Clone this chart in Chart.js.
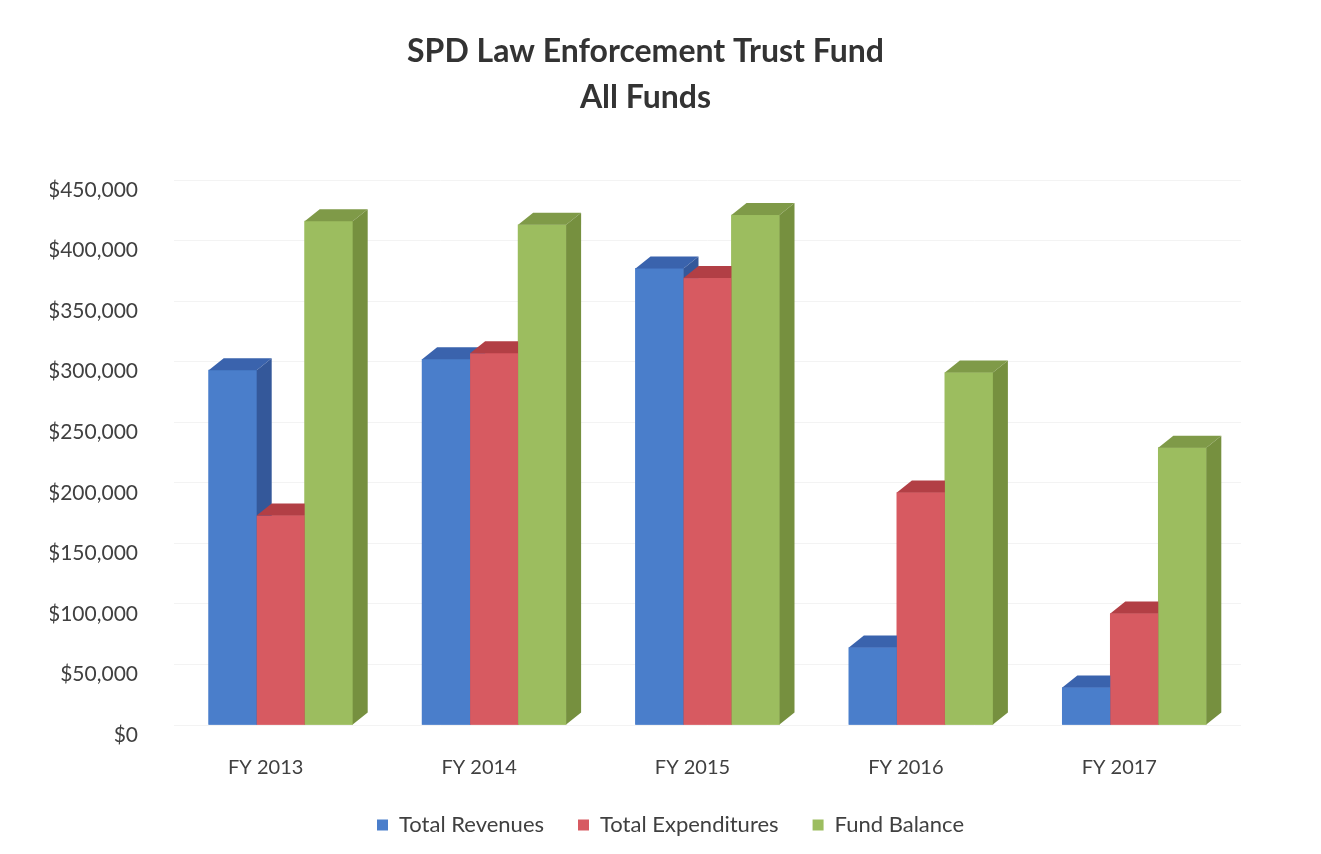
<!DOCTYPE html>
<html>
<head>
<meta charset="utf-8">
<script src="https://cdn.jsdelivr.net/npm/chart.js@4"></script>
<style>
  html, body { margin: 0; padding: 0; background: #ffffff; }
  #wrap { width: 1321px; height: 854px; }
</style>
</head>
<body>
<div id="wrap"><canvas id="fundChart" width="1321" height="854"></canvas></div>
<script>
// values
const categories = ['FY 2013', 'FY 2014', 'FY 2015', 'FY 2016', 'FY 2017'];
const totalRevenues = [293000, 302000, 377000, 64000, 31000];
const totalExpenditures = [173000, 307000, 369000, 192000, 92000];
const fundBalance = [416000, 413000, 421000, 291000, 229000];
const yTickValues = [0, 50000, 100000, 150000, 200000, 250000, 300000, 350000, 400000, 450000];

// front / top / side shades per series
const shades = [
    { front: '#4a7ecb', top: '#3a63ad', side: '#34589a' },
    { front: '#d75a61', top: '#b23f45', side: '#a3383d' },
    { front: '#9cbd5f', top: '#7f9a48', side: '#76903f' }
];
const DEPTH_X = 15;
const DEPTH_Y = 12;
const LEGEND_SHIFT = 25;

// Excel-ish 3D column faces, painted per series in order so later bars cover earlier sides
const bars3d = {
    id: 'bars3d',
    afterLayout(chart) {
        // legend in the original sits a bit right of the title
        if (chart.legend) {
            chart.legend.left += LEGEND_SHIFT;
            chart.legend.right += LEGEND_SHIFT;
        }
    },
    afterDatasetsDraw(chart) {
        const ctx = chart.ctx;
        ctx.save();
        chart.data.datasets.forEach((ds, i) => {
            const meta = chart.getDatasetMeta(i);
            if (meta.hidden) return;
            const c = shades[i];
            meta.data.forEach(bar => {
                const p = bar.getProps(['x', 'y', 'base', 'width'], true);
                const l = p.x - p.width / 2;
                const r = p.x + p.width / 2;

                ctx.fillStyle = c.front;
                ctx.fillRect(l, p.y, p.width, p.base - p.y);

                ctx.fillStyle = c.top;
                ctx.beginPath();
                ctx.moveTo(l, p.y);
                ctx.lineTo(l + DEPTH_X, p.y - DEPTH_Y);
                ctx.lineTo(r + DEPTH_X, p.y - DEPTH_Y);
                ctx.lineTo(r, p.y);
                ctx.closePath();
                ctx.fill();

                ctx.fillStyle = c.side;
                ctx.beginPath();
                ctx.moveTo(r, p.y);
                ctx.lineTo(r + DEPTH_X, p.y - DEPTH_Y);
                ctx.lineTo(r + DEPTH_X, p.base - DEPTH_Y);
                ctx.lineTo(r, p.base);
                ctx.closePath();
                ctx.fill();
            });
        });
        ctx.restore();
    }
};

const money = v => '$' + v.toLocaleString('en-US');

new Chart(document.getElementById('fundChart'), {
    type: 'bar',
    data: {
        labels: categories,
        datasets: [
            { label: 'Total Revenues', data: totalRevenues, backgroundColor: shades[0].front },
            { label: 'Total Expenditures', data: totalExpenditures, backgroundColor: shades[1].front },
            { label: 'Fund Balance', data: fundBalance, backgroundColor: shades[2].front }
        ]
    },
    options: {
        responsive: false,
        animation: false,
        barThickness: 48,
        layout: { padding: { top: 0, left: 50, right: 80, bottom: 8 } },
        plugins: {
            title: {
                display: true,
                text: ['SPD Law Enforcement Trust Fund', 'All Funds'],
                color: '#333333',
                font: { family: 'Lato', size: 32, weight: 'bold', lineHeight: 1.4375 },
                padding: { top: 29, bottom: 59 }
            },
            legend: {
                position: 'bottom',
                labels: {
                    boxWidth: 11,
                    boxHeight: 11,
                    padding: 34,
                    color: '#404040',
                    font: { family: 'Lato', size: 22 }
                }
            },
            tooltip: { enabled: false }
        },
        scales: {
            x: {
                grid: { display: false },
                border: { display: false },
                ticks: {
                    color: '#404040',
                    font: { family: 'Lato', size: 20 },
                    padding: 23,
                    labelOffset: -15
                },
                afterFit: s => { s.height = 55; }
            },
            y: {
                min: 0,
                max: 450000,
                afterBuildTicks: s => { s.ticks = yTickValues.map(v => ({ value: v })); },
                grid: { color: '#f3f3f3', drawTicks: false },
                border: { display: false },
                ticks: {
                    color: '#404040',
                    font: { family: 'Lato', size: 21 },
                    padding: 36,
                    labelOffset: 10,
                    callback: v => money(v)
                },
                afterFit: s => { s.width = 124; }
            }
        }
    },
    plugins: [bars3d]
});
</script>
</body>
</html>
